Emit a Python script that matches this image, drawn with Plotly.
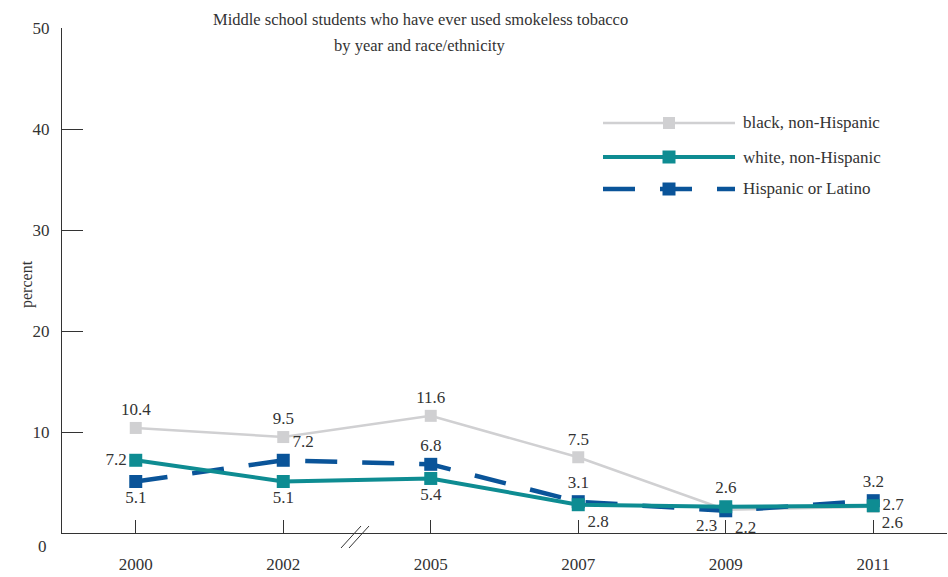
import plotly.graph_objects as go

# ---- data ----
years = ["2000", "2002", "2005", "2007", "2009", "2011"]
black = [10.4, 9.5, 11.6, 7.5, 2.3, 2.6]
white = [7.2, 5.1, 5.4, 2.8, 2.6, 2.7]
hispanic = [5.1, 7.2, 6.8, 3.1, 2.2, 3.2]
series_names = ["black, non-Hispanic", "white, non-Hispanic", "Hispanic or Latino"]
y_ticks = [0, 10, 20, 30, 40, 50]
title_lines = ["Middle school students who have ever used smokeless tobacco",
               "by year and race/ethnicity"]

# ---- styles ----
FONT = "Liberation Serif, Times New Roman, serif"
TXT = "#333333"
C_BLACK = "#D0D0D2"
C_WHITE = "#0E8C92"
C_HISP = "#0A5499"
W, H = 948, 577
ML, MR, MT, MB = 62, 1, 28, 44
PW, PH = W - ML - MR, H - MT - MB

def px_x(px):
    return (px - ML) / PW

def px_y(py):
    return (H - MB - py) / PH

pos_black = ["top center", "top center", "top center", "top center", "bottom left", "bottom right"]
pos_white = ["middle left", "bottom center", "bottom center", "bottom right", "top center", "middle right"]
pos_hisp = ["bottom center", "top right", "top center", "top center", "bottom right", "top center"]

fig = go.Figure()
fig.add_trace(go.Scatter(
    x=years, y=black, mode="lines+markers+text", name=series_names[0],
    line=dict(color=C_BLACK, width=2.5),
    marker=dict(symbol="square", size=12, color=C_BLACK),
    text=[f"{v:.1f}" for v in black], textposition=pos_black,
    textfont=dict(family=FONT, size=17, color=TXT), showlegend=False))
fig.add_trace(go.Scatter(
    x=years, y=hispanic, mode="lines+markers+text", name=series_names[2],
    line=dict(color=C_HISP, width=4.5, dash="32px,25px"),
    marker=dict(symbol="square", size=13, color=C_HISP),
    text=[f"{v:.1f}" for v in hispanic], textposition=pos_hisp,
    textfont=dict(family=FONT, size=17, color=TXT), showlegend=False))
fig.add_trace(go.Scatter(
    x=years, y=white, mode="lines+markers+text", name=series_names[1],
    line=dict(color=C_WHITE, width=4),
    marker=dict(symbol="square", size=13, color=C_WHITE),
    text=[f"{v:.1f}" for v in white], textposition=pos_white,
    textfont=dict(family=FONT, size=17, color=TXT), showlegend=False))

shapes = []
annotations = []

# custom legend
leg_rows = [
    (series_names[0], C_BLACK, 2.5, "solid", 123, 12),
    (series_names[1], C_WHITE, 4, "solid", 157, 13),
    (series_names[2], C_HISP, 4.5, "32px,25px", 189, 13),
]
for name, col, lw, dash, py, ms in leg_rows:
    shapes.append(dict(type="line", xref="paper", yref="paper",
                       x0=px_x(603), x1=px_x(735), y0=px_y(py), y1=px_y(py),
                       line=dict(color=col, width=lw, dash=dash)))
    shapes.append(dict(type="rect", xref="paper", yref="paper",
                       x0=px_x(669 - ms / 2), x1=px_x(669 + ms / 2),
                       y0=px_y(py + ms / 2), y1=px_y(py - ms / 2),
                       line=dict(width=0), fillcolor=col))
    annotations.append(dict(text=name, xref="paper", yref="paper",
                            x=px_x(741), y=px_y(py), xanchor="left", yanchor="middle",
                            showarrow=False, font=dict(family=FONT, size=17, color=TXT)))

# axis break marks
for dx in (0, 8):
    shapes.append(dict(type="line", xref="paper", yref="paper",
                       x0=px_x(341 + dx), x1=px_x(361 + dx), y0=px_y(548), y1=px_y(526),
                       line=dict(color=TXT, width=1)))

# zero tick label below the axis
annotations.append(dict(text=str(y_ticks[0]), xref="paper", yref="y",
                        x=px_x(42), y=y_ticks[0], xanchor="center", yanchor="top",
                        yshift=-2, showarrow=False,
                        font=dict(family=FONT, size=17, color=TXT)))

# y axis title
annotations.append(dict(text="percent", xref="paper", yref="paper",
                        x=px_x(27), y=px_y(284), textangle=-90,
                        xanchor="center", yanchor="middle", showarrow=False,
                        font=dict(family=FONT, size=16, color=TXT)))

# title (two lines, placed individually)
for line_text, py in zip(title_lines, (20, 45)):
    annotations.append(dict(text=line_text, xref="paper", yref="paper",
                            x=px_x(420), y=px_y(py), xanchor="center", yanchor="middle",
                            showarrow=False,
                            font=dict(family=FONT, size=16.5, color=TXT)))

fig.update_layout(
    width=W, height=H,
    margin=dict(l=ML, r=MR, t=MT, b=MB, pad=0),
    paper_bgcolor="white", plot_bgcolor="white",
    font=dict(family=FONT, color=TXT),
    shapes=shapes, annotations=annotations,
    xaxis=dict(type="category", categoryorder="array", categoryarray=years,
               range=[-0.5, 5.5], showgrid=False, zeroline=False,
               showline=True, linecolor=TXT, linewidth=1,
               ticks="inside", ticklen=13, tickcolor=TXT, tickwidth=1,
               tickfont=dict(family=FONT, size=17, color=TXT),
               ticklabelstandoff=16),
    yaxis=dict(range=[0, 50], tickvals=y_ticks[1:], showgrid=False, zeroline=False,
               showline=True, linecolor=TXT, linewidth=1,
               ticks="inside", ticklen=21, tickcolor=TXT, tickwidth=1,
               tickfont=dict(family=FONT, size=17, color=TXT),
               ticklabelstandoff=8),
)

fig.write_html("out.html",
               config={"displayModeBar": False},
               post_script="document.body.style.margin='0';document.body.style.overflow='hidden';")
